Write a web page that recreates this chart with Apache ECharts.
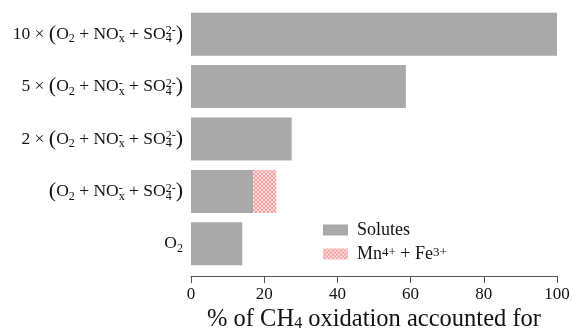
<!DOCTYPE html>
<html><head><meta charset="utf-8">
<script src="https://cdn.jsdelivr.net/npm/echarts@6/dist/echarts.min.js"></script>
<style>html,body{margin:0;padding:0;background:#fff}#c{width:572px;height:335px}</style>
</head><body><div id="c"></div>
<script>
// Data (bottom to top)
const categories = ['O2', '(O2 + NOx- + SO42-)', '2 × (O2 + NOx- + SO42-)', '5 × (O2 + NOx- + SO42-)', '10 × (O2 + NOx- + SO42-)'];
const prefixes = ['', '', '2 × ', '5 × ', '10 × '];
const solutes = [14, 17, 27.5, 58.7, 100];
const mnFe = [0, 6.3, 0, 0, 0];
const xTicks = [0, 20, 40, 60, 80, 100];

const serif = 'Liberation Serif';
const mix = '{p|(}{n|O}{sub|2}{n| + NO}{sup0|-}{sub|x}{n| + SO}{sub0|4}{sup|2-}{p|)}';
function richLabel(i) {
  if (i === 0) return '{n|O}{sub|2}';
  return (prefixes[i] ? '{n|' + prefixes[i] + '}' : '') + mix;
}

// hatch pattern
const pc = document.createElement('canvas');
pc.width = 4; pc.height = 4;
const g = pc.getContext('2d');
g.fillStyle = '#fcdcdc'; g.fillRect(0, 0, 4, 4);
g.fillStyle = '#f5a0a0';
for (let i = 0; i < 4; i++) { g.fillRect(i, i, 1, 1); g.fillRect(i, 3 - i, 1, 1); }
const hatch = { image: pc, repeat: 'repeat' };

const gray = '#a9a9a9';
const ink = '#111';
const richStyles = {
  n: { fontFamily: serif, fontSize: 17.5, color: ink, lineHeight: 24, align: 'left' },
  p: { fontFamily: serif, fontSize: 22, color: ink, lineHeight: 24, align: 'left' },
  sub: { fontFamily: serif, fontSize: 12, color: ink, lineHeight: 12, verticalAlign: 'bottom', align: 'left', padding: [0, 0, 1, 0] },
  sup: { fontFamily: serif, fontSize: 12, color: ink, lineHeight: 12, verticalAlign: 'top', align: 'left', padding: [3, 0, 0, 0] },
  sub0: { fontFamily: serif, fontSize: 12, color: ink, lineHeight: 12, verticalAlign: 'bottom', align: 'left', width: 0, padding: [0, 0, 1, 0] },
  sup0: { fontFamily: serif, fontSize: 12, color: ink, lineHeight: 12, verticalAlign: 'top', align: 'left', width: 0, padding: [3, 0, 0, 0] }
};

const chart = echarts.init(document.getElementById('c'), null, { renderer: 'canvas' });
chart.setOption({
  animation: false,
  grid: { left: 191, right: 15, top: 8, bottom: 65, containLabel: false, outerBoundsMode: 'none' },
  xAxis: {
    type: 'value', min: 0, max: 100, interval: 20, offset: 6,
    axisLine: { show: true, lineStyle: { color: '#555', width: 1 } },
    axisTick: { show: true, length: 7, lineStyle: { color: '#555' } },
    splitLine: { show: false },
    axisLabel: { fontFamily: serif, fontSize: 17, color: ink, margin: 10,
      formatter: v => xTicks.includes(v) ? String(v) : '' },
    name: '{t|% of CH}{s|4}{t| oxidation accounted for}',
    nameLocation: 'middle', nameGap: 31, nameMoveOverlap: false,
    nameTextStyle: { rich: {
      t: { fontFamily: serif, fontSize: 24.5, color: ink, lineHeight: 26, align: 'left' },
      s: { fontFamily: serif, fontSize: 16, color: ink, lineHeight: 16, verticalAlign: 'bottom', align: 'left', padding: [0, 0, 1, 0] }
    } }
  },
  yAxis: {
    type: 'category', data: categories,
    axisLine: { show: false }, axisTick: { show: false },
    axisLabel: { margin: 8, formatter: (v, i) => richLabel(i), rich: richStyles }
  },
  legend: {
    orient: 'vertical', left: 323, top: 221, padding: 0,
    itemWidth: 25, itemHeight: 11, itemGap: 6,
    textStyle: { fontFamily: serif, fontSize: 18, color: ink, lineHeight: 15,
      rich: {
        t: { fontFamily: serif, fontSize: 18, color: ink, lineHeight: 15 },
        f: { fontFamily: serif, fontSize: 18, color: ink, lineHeight: 15, padding: [0, 0, 0, 4] },
        u: { fontFamily: serif, fontSize: 13, color: ink, lineHeight: 12, verticalAlign: 'top' }
      } },
    formatter: n => n === 'Solutes' ? '{f|Solutes}' : '{f|Mn}{u|4+}{t| + Fe}{u|3+}',
    data: [{ name: 'Solutes', icon: 'rect' }, { name: 'Mn4+ + Fe3+', icon: 'rect' }]
  },
  series: [
    { name: 'Solutes', type: 'bar', stack: 's', data: solutes, barCategoryGap: '18%',
      itemStyle: { color: gray } },
    { name: 'Mn4+ + Fe3+', type: 'bar', stack: 's', data: mnFe.map(v => v || '-'), barCategoryGap: '18%',
      itemStyle: { color: hatch } }
  ]
});
</script></body></html>
